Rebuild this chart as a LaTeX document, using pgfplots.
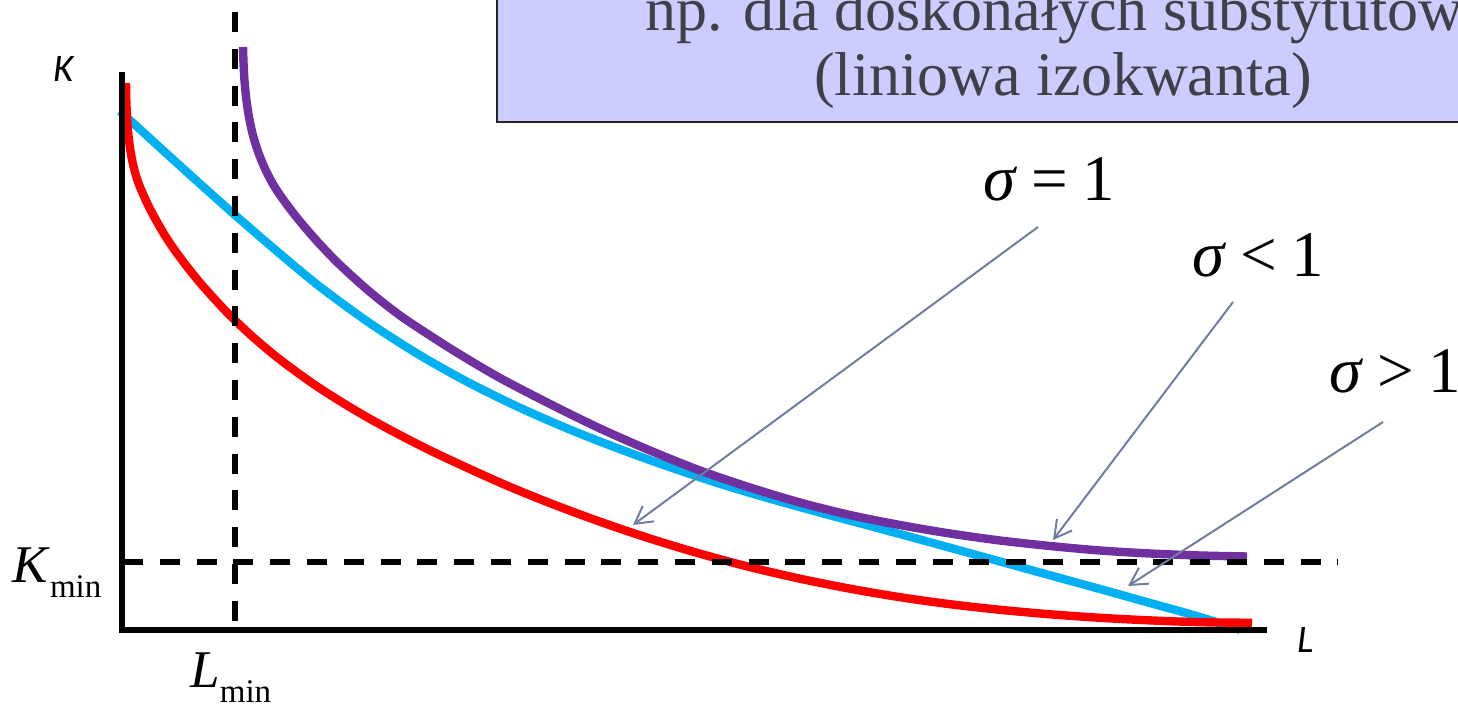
\documentclass[border=0pt]{standalone}
\usepackage{fontspec}
\setmainfont{Liberation Serif}
\newfontfamily\calibri{Carlito}
\usepackage{pgfplots}
\pgfplotsset{compat=1.18}
\usetikzlibrary{arrows.meta}
\definecolor{cRed}{HTML}{FF0000}
\definecolor{cBlue}{HTML}{00B0F0}
\definecolor{cPurple}{HTML}{7030A0}
\definecolor{cArrow}{RGB}{112,124,160}
\definecolor{cBox}{RGB}{204,204,255}
\definecolor{cBoxText}{RGB}{64,64,72}
\begin{document}
\begin{tikzpicture}
\begin{axis}[width=729pt,height=352pt,scale only axis,
  xmin=0,xmax=1458,ymin=0,ymax=704,y dir=reverse,hide axis,clip=false]
\coordinate (SW) at (axis cs:0,704);
\coordinate (NE) at (axis cs:1458,0);
% title box
\draw[fill=cBox,draw=black!85,line width=1.3pt] (axis cs:497,-40) rectangle (axis cs:1520,122);
\node[anchor=base,inner sep=0,text=cBoxText,font=\fontsize{31}{31}\selectfont] at (axis cs:1054,31) {np. dla doskonałych substytutów};
\node[anchor=base,inner sep=0,text=cBoxText,font=\fontsize{31}{31}\selectfont] at (axis cs:1063,96) {(liniowa izokwanta)};
% sigma > 1
\addplot[cBlue,line width=4.2pt,smooth] coordinates {
(120,111) (160,147.6) (200,183.8) (240,219.4) (280,253.8) (320,286.8) (370,323.3)
(420,355.3) (470,383.3) (520,407.8) (570,429.6) (620,449.2) (670,467.2) (720,483.8)
(770,498.7) (820,512.6) (870,526) (920,539.5) (960,550.5) (1000,561.5) (1050,575.3)
(1100,589) (1150,603) (1200,617) (1240,630)};
% sigma < 1
\addplot[cPurple,line width=4.2pt,smooth] coordinates {
(243,47) (243.6,65) (244.6,82) (246.2,98) (248.3,113) (251,127) (254.3,140)
(258.2,152) (262.7,163.5) (267.8,174.5) (273.5,185) (280,195) (287,204.8)
(295,215.2) (305,227.4) (320,244.4) (340,265) (370,292) (400,315.5) (430,335.5)
(460,354.5) (500,378) (550,404) (600,428.5) (650,450.5) (700,470.5) (750,487.5)
(800,502.5) (850,515) (900,525) (950,533.5) (1000,540.5) (1050,546) (1100,550.5)
(1150,553.5) (1200,555.5) (1247,556.5)};
% sigma = 1
\addplot[cRed,line width=4.2pt,smooth] coordinates {
(126,83) (126.3,100) (127,117) (128.2,133) (130,148) (132.5,162) (136,175.5)
(140,187) (150,209) (165,235.6) (180,257.4) (200,282.7) (225,310.3) (250,334.4)
(280,359.6) (320,388.4) (370,418.9) (430,450.4) (500,482.6) (550,503.1)
(600,521.7) (650,538.6) (700,553.7) (750,567.1) (800,578.7) (850,588.7)
(900,597.2) (950,604.2) (1000,609.8) (1050,614.3) (1100,617.8) (1150,620.4)
(1200,622.2) (1252,622.8)};
% dashed guides
\addplot[black,line width=2.9pt,dash pattern=on 10pt off 8.4pt] coordinates {(235,12) (235,630)};
\addplot[black,line width=2.9pt,dash pattern=on 10pt off 8.4pt] coordinates {(123,562) (1338,562)};
% axes
\addplot[black,line width=3.3pt] coordinates {(122,72) (122,633)};
\addplot[black,line width=3.3pt] coordinates {(119,630) (1267,630)};
% arrows
\addplot[cArrow,line width=1pt,-{Straight Barb[length=8.5pt,width=9.5pt]}] coordinates {(1038,227) (633,525)};
\addplot[cArrow,line width=1pt,-{Straight Barb[length=8.5pt,width=9.5pt]}] coordinates {(1233,302) (1053,540)};
\addplot[cArrow,line width=1pt,-{Straight Barb[length=8.5pt,width=9.5pt]}] coordinates {(1383,422) (1128,586)};
% labels
\node[anchor=base west,inner sep=0,font=\fontsize{32.5}{32.5}\selectfont] at (axis cs:983,201) {\textit{σ}\hspace{0.22em}=\hspace{0.22em}1};
\node[anchor=base west,inner sep=0,font=\fontsize{32.5}{32.5}\selectfont] at (axis cs:1192,277) {\textit{σ}\hspace{0.22em}<\hspace{0.22em}1};
\node[anchor=base west,inner sep=0,font=\fontsize{32.5}{32.5}\selectfont] at (axis cs:1329,393) {\textit{σ}\hspace{0.22em}>\hspace{0.22em}1};
\node[anchor=base west,inner sep=0,font=\calibri\itshape\fontsize{19.5}{19.5}\selectfont] at (axis cs:53,82) {K};
\node[anchor=base west,inner sep=0,font=\calibri\itshape\fontsize{19.5}{19.5}\selectfont] at (axis cs:1297,653) {L};
\node[anchor=base west,inner sep=0,font=\fontsize{26.5}{26.5}\selectfont] at (axis cs:12,583) {\textit{K}\raisebox{-7.5pt}{\fontsize{16.5}{16.5}\selectfont min}};
\node[anchor=base west,inner sep=0,font=\fontsize{26.5}{26.5}\selectfont] at (axis cs:190,688) {\textit{L}\raisebox{-7.5pt}{\fontsize{16.5}{16.5}\selectfont min}};
\end{axis}
\pgfresetboundingbox
\useasboundingbox (SW) rectangle (NE);
\end{tikzpicture}
\end{document}
